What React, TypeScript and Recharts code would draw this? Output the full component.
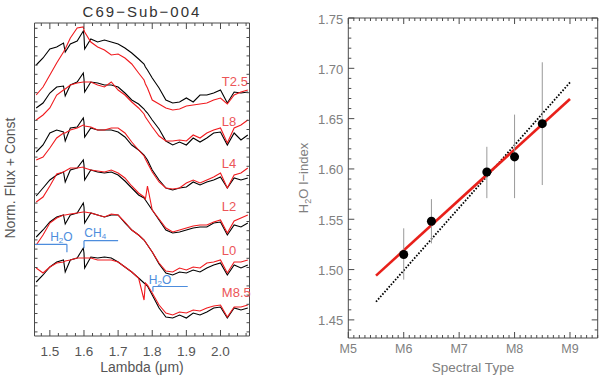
import React from "react";
import {
  LineChart,
  ComposedChart,
  Line,
  Scatter,
  ErrorBar,
  XAxis,
  YAxis,
  ReferenceLine,
  ReferenceDot
} from "recharts";

// wavelength grid (micron)
const lambda = [1.46, 1.48, 1.50, 1.52, 1.54, 1.545, 1.56, 1.58, 1.598, 1.60, 1.602, 1.62, 1.64, 1.66, 1.68, 1.70, 1.72, 1.74, 1.76, 1.776, 1.78, 1.786, 1.80, 1.82, 1.84, 1.86, 1.88, 1.90, 1.92, 1.94, 1.96, 1.98, 2.00, 2.02, 2.04, 2.06, 2.08];

// object spectrum (black) + template (red), normalised flux + const
const objT25 = [2.70, 2.77, 2.86, 2.88, 2.92, 2.83, 2.91, 2.94, 3.04, 2.99, 2.86, 2.96, 2.93, 2.95, 2.93, 2.91, 2.87, 2.82, 2.76, 2.71, 2.68, 2.65, 2.57, 2.47, 2.35, 2.32, 2.33, 2.37, 2.33, 2.40, 2.40, 2.42, 2.45, 2.32, 2.43, 2.42, 2.43];
const tplT25 = [2.40, 2.48, 2.60, 2.72, 2.83, 2.86, 2.97, 3.07, 3.08, 3.05, 3.03, 2.93, 2.88, 2.85, 2.80, 2.81, 2.77, 2.71, 2.62, 2.55, 2.51, 2.47, 2.35, 2.31, 2.27, 2.25, 2.26, 2.29, 2.30, 2.31, 2.32, 2.35, 2.37, 2.31, 2.40, 2.43, 2.45];
const objL8 = [2.27, 2.32, 2.42, 2.48, 2.49, 2.39, 2.50, 2.53, 2.62, 2.56, 2.43, 2.53, 2.52, 2.50, 2.50, 2.48, 2.42, 2.35, 2.31, 2.26, 2.24, 2.22, 2.15, 2.06, 1.94, 1.90, 1.93, 1.90, 1.97, 1.93, 1.97, 2.02, 2.03, 1.90, 2.02, 1.95, 2.00];
const tplL8 = [2.15, 2.20, 2.27, 2.40, 2.45, 2.46, 2.50, 2.52, 2.53, 2.53, 2.53, 2.53, 2.50, 2.48, 2.53, 2.45, 2.40, 2.33, 2.27, 2.21, 2.18, 2.15, 2.08, 1.99, 1.94, 1.94, 1.95, 1.94, 2.00, 1.97, 2.02, 2.05, 2.07, 1.92, 2.07, 2.10, 2.15];
const objL4 = [1.83, 1.90, 2.02, 2.05, 2.03, 1.94, 2.07, 2.08, 2.17, 2.13, 1.98, 2.07, 2.05, 2.05, 2.05, 2.03, 1.98, 1.90, 1.85, 1.80, 1.78, 1.75, 1.65, 1.55, 1.47, 1.45, 1.47, 1.48, 1.53, 1.50, 1.53, 1.55, 1.58, 1.47, 1.57, 1.55, 1.57];
const tplL4 = [1.75, 1.78, 1.87, 1.97, 2.02, 2.02, 2.05, 2.07, 2.10, 2.10, 2.09, 2.08, 2.05, 2.05, 2.07, 2.07, 2.02, 1.93, 1.85, 1.79, 1.76, 1.72, 1.63, 1.53, 1.47, 1.46, 1.47, 1.52, 1.55, 1.52, 1.55, 1.58, 1.62, 1.47, 1.60, 1.62, 1.67];
const objL2 = [1.39, 1.47, 1.55, 1.60, 1.63, 1.53, 1.65, 1.67, 1.75, 1.70, 1.55, 1.65, 1.63, 1.62, 1.63, 1.60, 1.54, 1.47, 1.40, 1.37, 1.35, 1.32, 1.25, 1.15, 1.05, 1.02, 1.03, 1.05, 1.07, 1.08, 1.08, 1.12, 1.13, 1.00, 1.10, 1.08, 1.12];
const tplL2 = [1.33, 1.38, 1.49, 1.61, 1.63, 1.64, 1.67, 1.67, 1.68, 1.67, 1.67, 1.65, 1.64, 1.63, 1.65, 1.62, 1.57, 1.49, 1.42, 1.38, 1.36, 1.49, 1.25, 1.16, 1.07, 1.03, 1.05, 1.07, 1.09, 1.10, 1.10, 1.13, 1.15, 1.02, 1.14, 1.17, 1.20];
const objL0 = [0.98, 1.05, 1.13, 1.18, 1.20, 1.11, 1.20, 1.22, 1.32, 1.28, 1.12, 1.22, 1.20, 1.18, 1.20, 1.20, 1.12, 1.05, 1.00, 0.95, 0.93, 0.90, 0.83, 0.71, 0.62, 0.60, 0.63, 0.62, 0.65, 0.63, 0.67, 0.70, 0.72, 0.60, 0.70, 0.67, 0.70];
const tplL0 = [0.90, 1.00, 1.12, 1.17, 1.20, 1.20, 1.21, 1.22, 1.23, 1.23, 1.23, 1.22, 1.20, 1.18, 1.21, 1.20, 1.13, 1.05, 1.00, 0.95, 0.93, 0.90, 0.83, 0.72, 0.64, 0.63, 0.67, 0.65, 0.68, 0.67, 0.72, 0.73, 0.75, 0.62, 0.73, 0.73, 0.75];
const objM85 = [0.53, 0.60, 0.68, 0.73, 0.75, 0.63, 0.75, 0.77, 0.87, 0.82, 0.67, 0.78, 0.77, 0.78, 0.77, 0.73, 0.68, 0.63, 0.57, 0.52, 0.51, 0.49, 0.40, 0.27, 0.18, 0.17, 0.20, 0.17, 0.22, 0.20, 0.23, 0.27, 0.28, 0.17, 0.27, 0.25, 0.27];
const tplM85 = [0.67, 0.62, 0.68, 0.72, 0.73, 0.74, 0.75, 0.77, 0.77, 0.77, 0.77, 0.77, 0.75, 0.75, 0.75, 0.73, 0.68, 0.63, 0.57, 0.35, 0.52, 0.50, 0.42, 0.30, 0.22, 0.20, 0.23, 0.22, 0.25, 0.24, 0.27, 0.29, 0.30, 0.18, 0.28, 0.28, 0.30];

const templateTypes = ["T2.5", "L8", "L4", "L2", "L0", "M8.5"];

// H2O index vs spectral type
const spType = [6, 6.5, 7.5, 8, 8.5];
const h2oIndex = [1.515, 1.548, 1.597, 1.612, 1.645];
const h2oLow = [1.490, 1.526, 1.571, 1.571, 1.584];
const h2oHigh = [1.541, 1.570, 1.622, 1.654, 1.706];
const fitX = [5.5, 9];
const fitRed = [1.494, 1.6695];
const fitDotted = [1.468, 1.686];

const sptNames = ["M5", "M6", "M7", "M8", "M9"];

const pairs = [
  { obj: objT25, tpl: tplT25 },
  { obj: objL8, tpl: tplL8 },
  { obj: objL4, tpl: tplL4 },
  { obj: objL2, tpl: tplL2 },
  { obj: objL0, tpl: tplL0 },
  { obj: objM85, tpl: tplM85 }
];

const specRows = lambda.map((lam, i) => {
  const row: any = { lam };
  pairs.forEach((p, k) => {
    row["b" + k] = p.obj[i];
    row["r" + k] = p.tpl[i];
  });
  return row;
});

const idxPoints = spType.map((x, i) => ({
  x,
  y: h2oIndex[i],
  err: [h2oIndex[i] - h2oLow[i], h2oHigh[i] - h2oIndex[i]]
}));
const fitRows = fitX.map((x, i) => ({ x, red: fitRed[i], dotted: fitDotted[i] }));

const steps = (a: number, n: number, step: number) =>
  Array.from({ length: n }, (_, k) => Math.round((a + k * step) * 1000) / 1000);

const lamTicks = steps(1.475, 25, 0.025);
const fluxTicks = steps(0.031, 34, 0.092);
const sptTicks = steps(5, 46, 0.1);
const idxTicks = steps(1.44, 32, 0.01);

const AX = "#4a4a4a";
const RED = "#f01a1e";
const BLUE = "#4d8ddd";
const LABEL_RED = "#ec5558";

type Side = "bottom" | "top" | "left" | "right";
interface TickOpts {
  side: Side;
  isMajor: (v: number) => boolean;
  major: number;
  minor: number;
  text?: (v: number) => string;
  fontSize?: number;
  color?: string;
  gap?: number;
}

const near = (v: number, m: number) => Math.abs(v * m - Math.round(v * m)) < 1e-6;

const makeTick = (o: TickOpts) => (props: any) => {
  const { x, y, payload } = props;
  const v = payload.value as number;
  const big = o.isMajor(v);
  const len = big ? o.major : o.minor;
  let x2 = x;
  let y2 = y;
  if (o.side === "bottom") y2 = y - len;
  if (o.side === "top") y2 = y + len;
  if (o.side === "left") x2 = x + len;
  if (o.side === "right") x2 = x - len;
  let label = null;
  if (o.text && big) {
    label =
      o.side === "bottom" ? (
        <text x={x} y={y + (o.gap ?? 16)} textAnchor="middle" fontSize={o.fontSize} fill={o.color}>
          {o.text(v)}
        </text>
      ) : (
        <text x={x - (o.gap ?? 5)} y={y + 1} textAnchor="end" dominantBaseline="central" fontSize={o.fontSize} fill={o.color}>
          {o.text(v)}
        </text>
      );
  }
  return (
    <g>
      <line x1={x} y1={y} x2={x2} y2={y2} stroke={AX} strokeWidth={1} />
      {label}
    </g>
  );
};

const axisBase = {
  type: "number" as const,
  interval: 0 as const,
  tickSize: 0,
  tickMargin: 0,
  tickLine: false,
  allowDataOverflow: true,
  axisLine: { stroke: AX, strokeWidth: 1 }
};

const typeLabelAt = [2.533, 2.133, 1.717, 1.283, 0.85, 0.427];

const SubText = ({ cx, cy, main, sub, tail }: any) => (
  <text x={cx} y={cy} dominantBaseline="central" fill={BLUE} fontSize={12}>
    {main}
    <tspan fontSize={8} dy={3}>{sub}</tspan>
    {tail ? <tspan dy={-3}>{tail}</tspan> : null}
  </text>
);

const layer: React.CSSProperties = { position: "absolute", left: 0, top: 0 };

export default function App() {
  return (
    <div
      style={{
        position: "absolute",
        left: 0,
        top: 0,
        width: 600,
        height: 378,
        background: "#fff",
        overflow: "hidden",
        fontFamily: "'Liberation Sans', Arial, sans-serif"
      }}
    >
      <div style={layer}>
        <LineChart width={600} height={378} data={specRows} margin={{ top: 22, right: 349.5, bottom: 41, left: 33.5 }}>
          <XAxis
            {...axisBase}
            dataKey="lam"
            domain={[1.455, 2.085]}
            ticks={lamTicks}
            height={1}
            tick={makeTick({
              side: "bottom",
              isMajor: (v) => near(v, 10),
              major: 6,
              minor: 3,
              text: (v) => v.toFixed(1),
              fontSize: 13.5,
              color: "#555",
              gap: 20
            })}
          />
          <XAxis
            {...axisBase}
            xAxisId="top"
            orientation="top"
            dataKey="lam"
            domain={[1.455, 2.085]}
            ticks={lamTicks}
            height={1}
            tick={makeTick({ side: "top", isMajor: (v) => near(v, 10), major: 6, minor: 3 })}
          />
          <YAxis
            {...axisBase}
            domain={[-0.01, 3.12]}
            ticks={fluxTicks}
            width={1}
            tick={makeTick({ side: "left", isMajor: () => false, major: 4, minor: 3 })}
          />
          <YAxis
            {...axisBase}
            yAxisId="right"
            orientation="right"
            domain={[-0.01, 3.12]}
            ticks={fluxTicks}
            width={1}
            tick={makeTick({ side: "right", isMajor: () => false, major: 4, minor: 3 })}
          />
          {pairs.map((_, k) => (
            <Line key={"b" + k} dataKey={"b" + k} stroke="#000" strokeWidth={1.1} dot={false} isAnimationActive={false} />
          ))}
          {pairs.map((_, k) => (
            <Line key={"r" + k} dataKey={"r" + k} stroke={RED} strokeWidth={1.1} dot={false} isAnimationActive={false} />
          ))}
          <ReferenceLine segment={[{ x: 1.455, y: 0.907 }, { x: 1.55, y: 0.907 }]} stroke={BLUE} strokeWidth={1.2} ifOverflow="visible" />
          <ReferenceLine segment={[{ x: 1.55, y: 0.907 }, { x: 1.55, y: 0.827 }]} stroke={BLUE} strokeWidth={1.2} ifOverflow="visible" />
          <ReferenceLine segment={[{ x: 1.6, y: 0.867 }, { x: 1.6, y: 0.943 }]} stroke={BLUE} strokeWidth={1.2} ifOverflow="visible" />
          <ReferenceLine segment={[{ x: 1.6, y: 0.943 }, { x: 1.7, y: 0.943 }]} stroke={BLUE} strokeWidth={1.2} ifOverflow="visible" />
          <ReferenceLine segment={[{ x: 1.802, y: 0.433 }, { x: 1.802, y: 0.485 }]} stroke={BLUE} strokeWidth={1.2} ifOverflow="visible" />
          <ReferenceLine segment={[{ x: 1.802, y: 0.485 }, { x: 1.904, y: 0.485 }]} stroke={BLUE} strokeWidth={1.2} ifOverflow="visible" />
          <ReferenceDot x={1.501} y={0.98} r={0} shape={(p: any) => <SubText cx={p.cx} cy={p.cy} main="H" sub="2" tail="O" />} />
          <ReferenceDot x={1.601} y={1.02} r={0} shape={(p: any) => <SubText cx={p.cx} cy={p.cy} main="CH" sub="4" />} />
          <ReferenceDot x={1.79} y={0.55} r={0} shape={(p: any) => <SubText cx={p.cx} cy={p.cy} main="H" sub="2" tail="O" />} />
          {templateTypes.map((t, k) => (
            <ReferenceDot
              key={t}
              x={2.004}
              y={typeLabelAt[k]}
              r={0}
              shape={(p: any) => (
                <text x={p.cx} y={p.cy} dominantBaseline="central" fill={LABEL_RED} fontSize={13}>
                  {t}
                </text>
              )}
            />
          ))}
        </LineChart>
      </div>

      <div style={layer}>
        <ComposedChart width={600} height={378} data={fitRows} margin={{ top: 17, right: 1.3, bottom: 39, left: 347.3 }}>
          <XAxis
            {...axisBase}
            dataKey="x"
            domain={[5, 9.5]}
            ticks={sptTicks}
            height={1}
            tick={makeTick({
              side: "bottom",
              isMajor: (v) => near(v, 1),
              major: 6,
              minor: 3,
              text: (v) => sptNames[Math.round(v) - 5] ?? "",
              fontSize: 12.5,
              color: "#808080",
              gap: 15
            })}
          />
          <XAxis
            {...axisBase}
            xAxisId="top"
            orientation="top"
            dataKey="x"
            domain={[5, 9.5]}
            ticks={sptTicks}
            height={1}
            tick={makeTick({ side: "top", isMajor: (v) => near(v, 1), major: 6, minor: 3 })}
          />
          <YAxis
            {...axisBase}
            domain={[1.432, 1.75]}
            ticks={idxTicks}
            width={1}
            tick={makeTick({
              side: "left",
              isMajor: (v) => near(v, 20),
              major: 6,
              minor: 3,
              text: (v) => v.toFixed(2),
              fontSize: 13,
              color: "#808080",
              gap: 5
            })}
          />
          <YAxis
            {...axisBase}
            yAxisId="right"
            orientation="right"
            domain={[1.432, 1.75]}
            ticks={idxTicks}
            width={1}
            tick={makeTick({ side: "right", isMajor: (v) => near(v, 20), major: 6, minor: 3 })}
          />
          <Line dataKey="dotted" stroke="#000" strokeWidth={1.8} strokeDasharray="1.6 1.6" dot={false} isAnimationActive={false} />
          <Line dataKey="red" stroke="#e8201a" strokeWidth={2.6} dot={false} isAnimationActive={false} />
          <Scatter data={idxPoints} dataKey="y" fill="#000" isAnimationActive={false}>
            <ErrorBar dataKey="err" direction="y" width={0} stroke="#999" strokeWidth={1} />
          </Scatter>
        </ComposedChart>
      </div>

      <div style={{ position: "absolute", left: 0, width: 284, top: 3, lineHeight: "18px", textAlign: "center", fontSize: 15, letterSpacing: 2, color: "#333" }}>
        C69−Sub−004
      </div>
      <div style={{ position: "absolute", left: 0, width: 284, top: 358, lineHeight: "18px", textAlign: "center", fontSize: 14, color: "#555" }}>
        Lambda (μm)
      </div>
      <div
        style={{
          position: "absolute",
          left: -90,
          top: 169,
          width: 200,
          height: 18,
          lineHeight: "18px",
          textAlign: "center",
          fontSize: 14,
          color: "#555",
          transform: "rotate(-90deg)"
        }}
      >
        Norm. Flux + Const
      </div>
      <div style={{ position: "absolute", left: 373, width: 200, top: 359, lineHeight: "18px", textAlign: "center", fontSize: 13.5, color: "#808080" }}>
        Spectral Type
      </div>
      <div
        style={{
          position: "absolute",
          left: 204,
          top: 169,
          width: 200,
          height: 18,
          lineHeight: "18px",
          textAlign: "center",
          fontSize: 13,
          color: "#808080",
          transform: "rotate(-90deg)"
        }}
      >
        H<span style={{ fontSize: 9, verticalAlign: -3 }}>2</span>O I−index
      </div>
    </div>
  );
}
